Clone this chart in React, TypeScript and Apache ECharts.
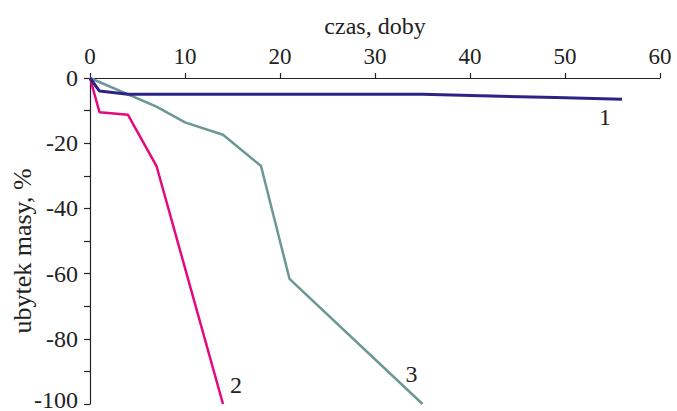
import React, { useEffect, useRef } from "react";
import * as echarts from "echarts";

const series1X = [0, 1, 4, 7, 14, 21, 35, 49, 56];
const series1Y = [0, -4, -5, -5, -5, -5, -5, -6, -6.5];
const series2X = [0, 1, 4, 7, 14];
const series2Y = [0, -10.5, -11.3, -27, -100];
const series3X = [0, 7, 10, 14, 18, 21, 35];
const series3Y = [0, -8.8, -13.6, -17.4, -27, -61.6, -100];
const seriesNames = ["1", "2", "3"];
const xTitle = "czas, doby";
const yTitle = "ubytek masy, %";

const FONT = "Liberation Serif";

function pairs(xs: number[], ys: number[]) {
  return xs.map((x, i) => [x, ys[i]]);
}

export default function App() {
  const ref = useRef<HTMLDivElement>(null);
  useEffect(() => {
    if (!ref.current) return;
    const chart = echarts.init(ref.current, null, { renderer: "svg" });
    const mkEnd = (text: string, offset: number[]) => ({
      show: true,
      formatter: text,
      color: "#222",
      fontFamily: FONT,
      fontSize: 24,
      align: "center",
      verticalAlign: "middle",
      distance: 0,
      offset,
    });
    chart.setOption({
      animation: false,
      backgroundColor: "#fff",
      textStyle: { fontFamily: FONT },
      grid: { left: 90, right: 17, top: 78, bottom: 7, containLabel: false, outerBoundsMode: "none" },
      xAxis: {
        type: "value",
        position: "top",
        min: 0,
        max: 60,
        interval: 10,
        name: xTitle,
        nameLocation: "middle",
        nameGap: 40,
        nameMoveOverlap: false,
        nameTextStyle: { fontFamily: FONT, fontSize: 24, color: "#222" },
        axisLine: { show: true, onZero: false, lineStyle: { color: "#222", width: 1.2 } },
        axisTick: { show: true, length: 5, lineStyle: { color: "#222", width: 1.2 } },
        axisLabel: { fontFamily: FONT, fontSize: 23, color: "#222", margin: 10 },
        splitLine: { show: false },
      },
      yAxis: {
        type: "value",
        min: -100,
        max: 0,
        interval: 20,
        name: yTitle,
        nameLocation: "middle",
        nameGap: 55,
        nameMoveOverlap: false,
        nameTextStyle: { fontFamily: FONT, fontSize: 26, color: "#222", lineHeight: 26, padding: [0, 20, 0, 0] },
        axisLine: { show: true, onZero: false, lineStyle: { color: "#222", width: 1.2 } },
        axisTick: { show: true, length: 6, lineStyle: { color: "#222", width: 1.2 } },
        minorTick: { show: true, splitNumber: 2, length: 6, lineStyle: { color: "#222", width: 1.2 } },
        axisLabel: {
          fontFamily: FONT,
          fontSize: 24,
          lineHeight: 14,
          color: "#222",
          margin: 12,
          formatter: (v: number) => (v === -100 ? `{low|${v}}` : `${v}`),
          rich: {
            low: { fontFamily: FONT, fontSize: 24, lineHeight: 14, color: "#222", padding: [0, 0, 8, 0] },
          },
        },
        splitLine: { show: false },
      },
      series: [
        {
          name: seriesNames[0],
          type: "line",
          data: pairs(series1X, series1Y),
          showSymbol: false,
          symbol: "none",
          lineStyle: { color: "#2D2387", width: 3 },
          itemStyle: { color: "#2D2387" },
          endLabel: mkEnd(seriesNames[0], [-17, 18]),
          z: 3,
        },
        {
          name: seriesNames[1],
          type: "line",
          data: pairs(series2X, series2Y),
          showSymbol: false,
          symbol: "none",
          lineStyle: { color: "#E5087E", width: 2.5 },
          itemStyle: { color: "#E5087E" },
          endLabel: mkEnd(seriesNames[1], [13, -19]),
          z: 2,
        },
        {
          name: seriesNames[2],
          type: "line",
          data: pairs(series3X, series3Y),
          showSymbol: false,
          symbol: "none",
          lineStyle: { color: "#6B9795", width: 2.5 },
          itemStyle: { color: "#6B9795" },
          endLabel: mkEnd(seriesNames[2], [-11, -30]),
          z: 1,
        },
      ],
    });
    return () => chart.dispose();
  }, []);
  return <div ref={ref} style={{ width: 677, height: 411, position: "absolute", left: 0, top: 0 }} />;
}
